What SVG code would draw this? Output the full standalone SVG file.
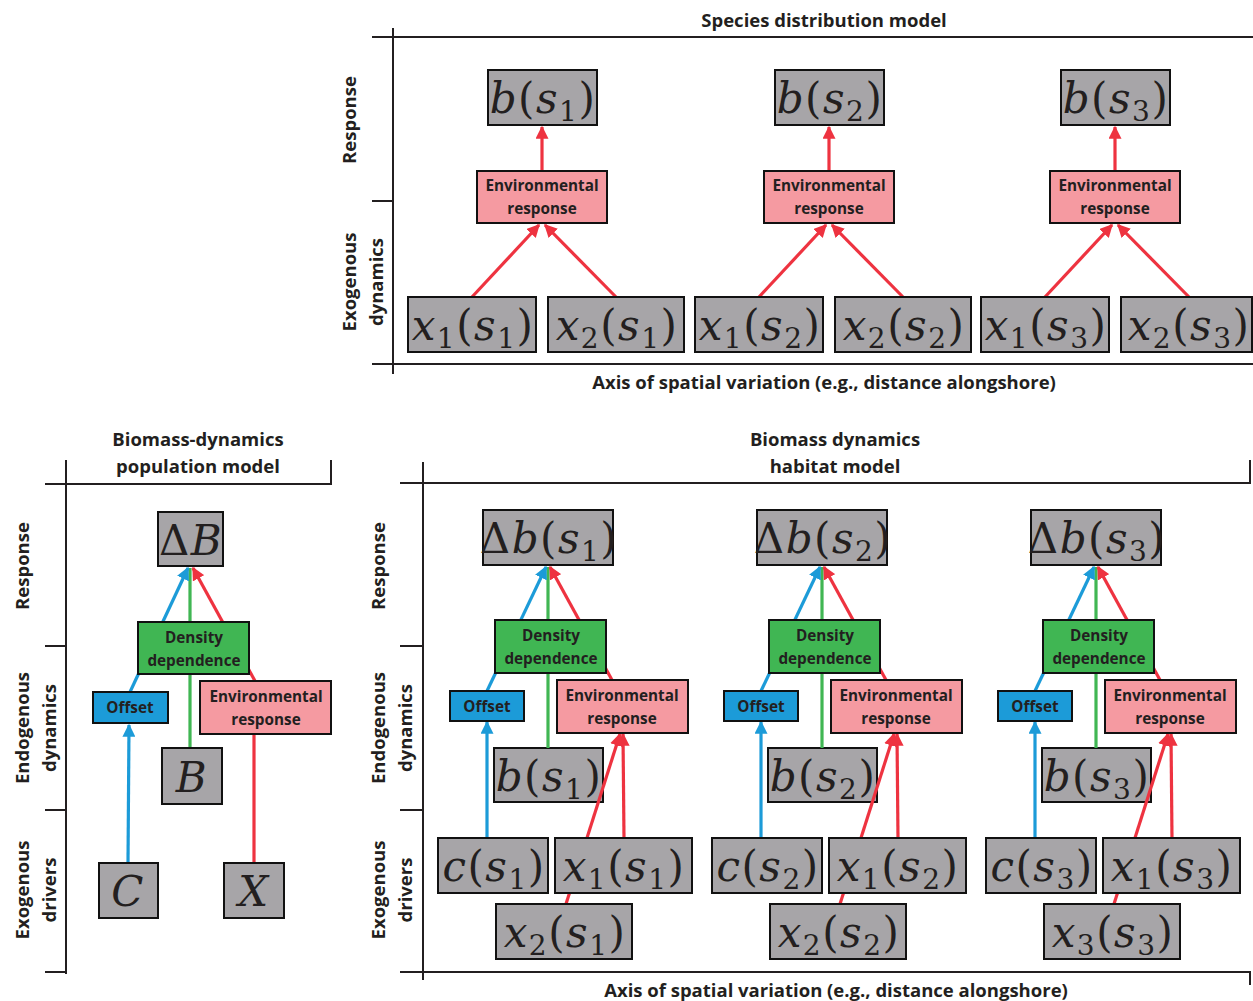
<svg xmlns="http://www.w3.org/2000/svg" width="1253" height="1001" viewBox="0 0 1253 1001">
  <style>
    .lbl { font-family: "Open Sans", Lato, sans-serif; font-weight: bold; fill: #231f20; }
    .title { font-size: 18.5px; text-anchor: middle; }
    .axis-lbl { font-size: 18.5px; text-anchor: middle; }
    .box-lbl { font-size: 15.3px; text-anchor: middle; }
    .m { font-family: "DejaVu Serif", "Liberation Serif", serif; font-size: 42px; letter-spacing: 1.5px; fill: #231f20; text-anchor: middle; }
    .it { font-style: italic; }
    .frame { stroke: #231f20; stroke-width: 2; fill: none; }
    .gray { fill: #a7a5a8; stroke: #111; stroke-width: 2; }
    .pink { fill: #f59aa1; stroke: #111; stroke-width: 2; }
    .green { fill: #40b653; stroke: #111; stroke-width: 2; }
    .blue { fill: #1c9bd8; stroke: #111; stroke-width: 2; }
    .cr { stroke: #ee3340; stroke-width: 3.2; fill: none; }
    .cb { stroke: #1c9bd8; stroke-width: 3.2; fill: none; }
    .cg { stroke: #40b653; stroke-width: 3.2; fill: none; }
  </style>
  <defs>
    <marker id="ar" viewBox="0 0 10 10" refX="9" refY="5" markerUnits="userSpaceOnUse" markerWidth="13" markerHeight="13" orient="auto">
      <path d="M0,0 L10,5 L0,10 z" fill="#ee3340"/>
    </marker>
    <marker id="ab" viewBox="0 0 10 10" refX="9" refY="5" markerUnits="userSpaceOnUse" markerWidth="13" markerHeight="13" orient="auto">
      <path d="M0,0 L10,5 L0,10 z" fill="#1c9bd8"/>
    </marker>
  </defs>

  <!-- ===== Species distribution model frame ===== -->
  <g id="frame-sdm">
    <text class="lbl title" x="824" y="27">Species distribution model</text>
    <line class="frame" x1="393" y1="28" x2="393" y2="374"/>
    <line class="frame" x1="393" y1="37" x2="1253" y2="37"/>
    <line class="frame" x1="393" y1="364" x2="1253" y2="364"/>
    <line class="frame" x1="372" y1="37" x2="393" y2="37"/>
    <line class="frame" x1="372" y1="201" x2="393" y2="201"/>
    <line class="frame" x1="372" y1="364" x2="393" y2="364"/>
    <text class="lbl axis-lbl" transform="translate(356,120) rotate(-90)">Response</text>
    <text class="lbl axis-lbl" transform="translate(356,282) rotate(-90)">Exogenous</text>
    <text class="lbl axis-lbl" transform="translate(383,282) rotate(-90)">dynamics</text>
    <text class="lbl axis-lbl" x="824" y="389">Axis of spatial variation (e.g., distance alongshore)</text>
  </g>

  <!-- ===== Biomass-dynamics population model frame ===== -->
  <g id="frame-pop">
    <text class="lbl title" x="198" y="446">Biomass-dynamics</text>
    <text class="lbl title" x="198" y="473">population model</text>
    <line class="frame" x1="66" y1="460" x2="66" y2="974"/>
    <line class="frame" x1="66" y1="484" x2="331" y2="484"/>
    <line class="frame" x1="331" y1="460" x2="331" y2="485"/>
    <line class="frame" x1="45" y1="484" x2="66" y2="484"/>
    <line class="frame" x1="45" y1="646" x2="66" y2="646"/>
    <line class="frame" x1="45" y1="810" x2="66" y2="810"/>
    <line class="frame" x1="45" y1="972" x2="66" y2="972"/>
    <text class="lbl axis-lbl" transform="translate(29,566) rotate(-90)">Response</text>
    <text class="lbl axis-lbl" transform="translate(29,728) rotate(-90)">Endogenous</text>
    <text class="lbl axis-lbl" transform="translate(56,728) rotate(-90)">dynamics</text>
    <text class="lbl axis-lbl" transform="translate(29,890) rotate(-90)">Exogenous</text>
    <text class="lbl axis-lbl" transform="translate(56,890) rotate(-90)">drivers</text>
  </g>

  <!-- ===== Biomass dynamics habitat model frame ===== -->
  <g id="frame-hab">
    <text class="lbl title" x="835" y="446">Biomass dynamics</text>
    <text class="lbl title" x="835" y="473">habitat model</text>
    <line class="frame" x1="423" y1="462" x2="423" y2="980"/>
    <line class="frame" x1="423" y1="483" x2="1251" y2="483"/>
    <line class="frame" x1="1250" y1="460" x2="1250" y2="484"/>
    <line class="frame" x1="423" y1="972" x2="1251" y2="972"/>
    <line class="frame" x1="1250" y1="971" x2="1250" y2="985"/>
    <line class="frame" x1="400" y1="483" x2="423" y2="483"/>
    <line class="frame" x1="400" y1="646" x2="423" y2="646"/>
    <line class="frame" x1="400" y1="810" x2="423" y2="810"/>
    <line class="frame" x1="400" y1="972" x2="423" y2="972"/>
    <text class="lbl axis-lbl" transform="translate(385,566) rotate(-90)">Response</text>
    <text class="lbl axis-lbl" transform="translate(385,728) rotate(-90)">Endogenous</text>
    <text class="lbl axis-lbl" transform="translate(412,728) rotate(-90)">dynamics</text>
    <text class="lbl axis-lbl" transform="translate(385,890) rotate(-90)">Exogenous</text>
    <text class="lbl axis-lbl" transform="translate(412,890) rotate(-90)">drivers</text>
    <text class="lbl axis-lbl" x="836" y="997">Axis of spatial variation (e.g., distance alongshore)</text>
  </g>

  <!-- state boxes that connectors cross over -->
  <g id="hab-b1"><rect class="gray" x="494" y="748" width="109" height="54"/>
    <text class="m" x="549" y="791"><tspan class="it">b</tspan>(<tspan class="it">s</tspan><tspan font-size="28" dy="8">1</tspan><tspan dy="-8">)</tspan></text></g>
  <g id="hab-b2"><rect class="gray" x="768" y="748" width="109" height="54"/>
    <text class="m" x="823" y="791"><tspan class="it">b</tspan>(<tspan class="it">s</tspan><tspan font-size="28" dy="8">2</tspan><tspan dy="-8">)</tspan></text></g>
  <g id="hab-b3"><rect class="gray" x="1042" y="748" width="109" height="54"/>
    <text class="m" x="1097" y="791"><tspan class="it">b</tspan>(<tspan class="it">s</tspan><tspan font-size="28" dy="8">3</tspan><tspan dy="-8">)</tspan></text></g>

  <!-- ===== connectors ===== -->
  <g id="connectors">
    <!-- species distribution model -->
    <line class="cr" x1="542" y1="171" x2="542" y2="127" marker-end="url(#ar)"/>
    <line class="cr" x1="472" y1="297" x2="539" y2="225" marker-end="url(#ar)"/>
    <line class="cr" x1="616" y1="297" x2="545" y2="225" marker-end="url(#ar)"/>
    <line class="cr" x1="829" y1="171" x2="829" y2="127" marker-end="url(#ar)"/>
    <line class="cr" x1="759" y1="297" x2="826" y2="225" marker-end="url(#ar)"/>
    <line class="cr" x1="903" y1="297" x2="832" y2="225" marker-end="url(#ar)"/>
    <line class="cr" x1="1115" y1="171" x2="1115" y2="127" marker-end="url(#ar)"/>
    <line class="cr" x1="1045" y1="297" x2="1112" y2="225" marker-end="url(#ar)"/>
    <line class="cr" x1="1189" y1="297" x2="1118" y2="225" marker-end="url(#ar)"/>

    <!-- population model -->
    <line class="cg" x1="190" y1="748" x2="190" y2="568"/>
    <line class="cb" x1="130" y1="692" x2="188" y2="568" marker-end="url(#ab)"/>
    <line class="cr" x1="255" y1="681" x2="193" y2="568" marker-end="url(#ar)"/>
    <line class="cb" x1="128" y1="863" x2="129" y2="725" marker-end="url(#ab)"/>
    <line class="cr" x1="254" y1="863" x2="254" y2="735"/>

    <!-- habitat model, site 1 -->
    <line class="cg" x1="548" y1="748" x2="548" y2="567"/>
    <line class="cb" x1="487" y1="691" x2="546" y2="567" marker-end="url(#ab)"/>
    <line class="cr" x1="612" y1="680" x2="550" y2="567" marker-end="url(#ar)"/>
    <line class="cb" x1="487" y1="838" x2="487" y2="722" marker-end="url(#ab)"/>
    <line class="cr" x1="624" y1="838" x2="623" y2="734" marker-end="url(#ar)"/>
    <line class="cr" x1="566" y1="904" x2="620" y2="734" marker-end="url(#ar)"/>
    <!-- habitat model, site 2 -->
    <line class="cg" x1="822" y1="748" x2="822" y2="567"/>
    <line class="cb" x1="761" y1="691" x2="820" y2="567" marker-end="url(#ab)"/>
    <line class="cr" x1="886" y1="680" x2="824" y2="567" marker-end="url(#ar)"/>
    <line class="cb" x1="761" y1="838" x2="761" y2="722" marker-end="url(#ab)"/>
    <line class="cr" x1="898" y1="838" x2="897" y2="734" marker-end="url(#ar)"/>
    <line class="cr" x1="840" y1="904" x2="894" y2="734" marker-end="url(#ar)"/>
    <!-- habitat model, site 3 -->
    <line class="cg" x1="1096" y1="748" x2="1096" y2="567"/>
    <line class="cb" x1="1035" y1="691" x2="1094" y2="567" marker-end="url(#ab)"/>
    <line class="cr" x1="1160" y1="680" x2="1098" y2="567" marker-end="url(#ar)"/>
    <line class="cb" x1="1035" y1="838" x2="1035" y2="722" marker-end="url(#ab)"/>
    <line class="cr" x1="1172" y1="838" x2="1171" y2="734" marker-end="url(#ar)"/>
    <line class="cr" x1="1114" y1="904" x2="1168" y2="734" marker-end="url(#ar)"/>
  </g>

  <!-- ===== species distribution model nodes ===== -->
  <g id="sdm-b1"><rect class="gray" x="488" y="70" width="109" height="55"/>
    <text class="m" x="543" y="113"><tspan class="it">b</tspan>(<tspan class="it">s</tspan><tspan font-size="28" dy="8">1</tspan><tspan dy="-8">)</tspan></text></g>
  <g id="sdm-b2"><rect class="gray" x="775" y="70" width="109" height="55"/>
    <text class="m" x="830" y="113"><tspan class="it">b</tspan>(<tspan class="it">s</tspan><tspan font-size="28" dy="8">2</tspan><tspan dy="-8">)</tspan></text></g>
  <g id="sdm-b3"><rect class="gray" x="1061" y="70" width="109" height="55"/>
    <text class="m" x="1116" y="113"><tspan class="it">b</tspan>(<tspan class="it">s</tspan><tspan font-size="28" dy="8">3</tspan><tspan dy="-8">)</tspan></text></g>

  <g id="sdm-env1"><rect class="pink" x="477" y="171" width="130" height="52"/>
    <text class="lbl box-lbl" x="542" y="191">Environmental</text><text class="lbl box-lbl" x="542" y="214">response</text></g>
  <g id="sdm-env2"><rect class="pink" x="764" y="171" width="130" height="52"/>
    <text class="lbl box-lbl" x="829" y="191">Environmental</text><text class="lbl box-lbl" x="829" y="214">response</text></g>
  <g id="sdm-env3"><rect class="pink" x="1050" y="171" width="130" height="52"/>
    <text class="lbl box-lbl" x="1115" y="191">Environmental</text><text class="lbl box-lbl" x="1115" y="214">response</text></g>

  <g id="sdm-x1s1"><rect class="gray" x="408" y="297" width="128" height="55"/>
    <text class="m" x="473" y="340"><tspan class="it">x</tspan><tspan font-size="28" dy="8">1</tspan><tspan dy="-8">(</tspan><tspan class="it">s</tspan><tspan font-size="28" dy="8">1</tspan><tspan dy="-8">)</tspan></text></g>
  <g id="sdm-x2s1"><rect class="gray" x="548" y="297" width="136" height="55"/>
    <text class="m" x="617" y="340"><tspan class="it">x</tspan><tspan font-size="28" dy="8">2</tspan><tspan dy="-8">(</tspan><tspan class="it">s</tspan><tspan font-size="28" dy="8">1</tspan><tspan dy="-8">)</tspan></text></g>
  <g id="sdm-x1s2"><rect class="gray" x="695" y="297" width="128" height="55"/>
    <text class="m" x="760" y="340"><tspan class="it">x</tspan><tspan font-size="28" dy="8">1</tspan><tspan dy="-8">(</tspan><tspan class="it">s</tspan><tspan font-size="28" dy="8">2</tspan><tspan dy="-8">)</tspan></text></g>
  <g id="sdm-x2s2"><rect class="gray" x="835" y="297" width="136" height="55"/>
    <text class="m" x="904" y="340"><tspan class="it">x</tspan><tspan font-size="28" dy="8">2</tspan><tspan dy="-8">(</tspan><tspan class="it">s</tspan><tspan font-size="28" dy="8">2</tspan><tspan dy="-8">)</tspan></text></g>
  <g id="sdm-x1s3"><rect class="gray" x="981" y="297" width="128" height="55"/>
    <text class="m" x="1046" y="340"><tspan class="it">x</tspan><tspan font-size="28" dy="8">1</tspan><tspan dy="-8">(</tspan><tspan class="it">s</tspan><tspan font-size="28" dy="8">3</tspan><tspan dy="-8">)</tspan></text></g>
  <g id="sdm-x2s3"><rect class="gray" x="1121" y="297" width="131" height="55"/>
    <text class="m" x="1189" y="340"><tspan class="it">x</tspan><tspan font-size="28" dy="8">2</tspan><tspan dy="-8">(</tspan><tspan class="it">s</tspan><tspan font-size="28" dy="8">3</tspan><tspan dy="-8">)</tspan></text></g>

  <!-- ===== population model nodes ===== -->
  <g id="pop-dB"><rect class="gray" x="158" y="512" width="65" height="54"/>
    <text class="m" x="191" y="555">Δ<tspan class="it">B</tspan></text></g>
  <g id="pop-dd"><rect class="green" x="138" y="622" width="111" height="52"/>
    <text class="lbl box-lbl" x="194" y="643">Density</text><text class="lbl box-lbl" x="194" y="666">dependence</text></g>
  <g id="pop-offset"><rect class="blue" x="93" y="692" width="75" height="31"/>
    <text class="lbl box-lbl" x="130" y="713">Offset</text></g>
  <g id="pop-env"><rect class="pink" x="200" y="681" width="131" height="53"/>
    <text class="lbl box-lbl" x="266" y="702">Environmental</text><text class="lbl box-lbl" x="266" y="725">response</text></g>
  <g id="pop-B"><rect class="gray" x="162" y="748" width="60" height="56"/>
    <text class="m" x="192" y="792"><tspan class="it">B</tspan></text></g>
  <g id="pop-C"><rect class="gray" x="99" y="863" width="59" height="55"/>
    <text class="m" x="128" y="906"><tspan class="it">C</tspan></text></g>
  <g id="pop-X"><rect class="gray" x="224" y="863" width="60" height="55"/>
    <text class="m" x="254" y="906"><tspan class="it">X</tspan></text></g>

  <!-- ===== habitat model nodes, site 1 ===== -->
  <g id="hab-db1"><rect class="gray" x="483" y="510" width="130" height="55"/>
    <text class="m" x="549" y="553">Δ<tspan class="it">b</tspan>(<tspan class="it">s</tspan><tspan font-size="28" dy="8">1</tspan><tspan dy="-8">)</tspan></text></g>
  <g id="hab-dd1"><rect class="green" x="495" y="620" width="111" height="53"/>
    <text class="lbl box-lbl" x="551" y="641">Density</text><text class="lbl box-lbl" x="551" y="664">dependence</text></g>
  <g id="hab-off1"><rect class="blue" x="450" y="691" width="74" height="30"/>
    <text class="lbl box-lbl" x="487" y="712">Offset</text></g>
  <g id="hab-env1"><rect class="pink" x="557" y="680" width="131" height="53"/>
    <text class="lbl box-lbl" x="622" y="701">Environmental</text><text class="lbl box-lbl" x="622" y="724">response</text></g>
  <g id="hab-c1"><rect class="gray" x="438" y="838" width="110" height="55"/>
    <text class="m" x="494" y="881"><tspan class="it">c</tspan>(<tspan class="it">s</tspan><tspan font-size="28" dy="8">1</tspan><tspan dy="-8">)</tspan></text></g>
  <g id="hab-x1s1"><rect class="gray" x="555" y="838" width="137" height="55"/>
    <text class="m" x="624" y="881"><tspan class="it">x</tspan><tspan font-size="28" dy="8">1</tspan><tspan dy="-8">(</tspan><tspan class="it">s</tspan><tspan font-size="28" dy="8">1</tspan><tspan dy="-8">)</tspan></text></g>
  <g id="hab-x2s1"><rect class="gray" x="496" y="904" width="136" height="55"/>
    <text class="m" x="565" y="947"><tspan class="it">x</tspan><tspan font-size="28" dy="8">2</tspan><tspan dy="-8">(</tspan><tspan class="it">s</tspan><tspan font-size="28" dy="8">1</tspan><tspan dy="-8">)</tspan></text></g>

  <!-- ===== habitat model nodes, site 2 ===== -->
  <g id="hab-db2"><rect class="gray" x="757" y="510" width="130" height="55"/>
    <text class="m" x="823" y="553">Δ<tspan class="it">b</tspan>(<tspan class="it">s</tspan><tspan font-size="28" dy="8">2</tspan><tspan dy="-8">)</tspan></text></g>
  <g id="hab-dd2"><rect class="green" x="769" y="620" width="111" height="53"/>
    <text class="lbl box-lbl" x="825" y="641">Density</text><text class="lbl box-lbl" x="825" y="664">dependence</text></g>
  <g id="hab-off2"><rect class="blue" x="724" y="691" width="74" height="30"/>
    <text class="lbl box-lbl" x="761" y="712">Offset</text></g>
  <g id="hab-env2"><rect class="pink" x="831" y="680" width="131" height="53"/>
    <text class="lbl box-lbl" x="896" y="701">Environmental</text><text class="lbl box-lbl" x="896" y="724">response</text></g>
  <g id="hab-c2"><rect class="gray" x="712" y="838" width="110" height="55"/>
    <text class="m" x="768" y="881"><tspan class="it">c</tspan>(<tspan class="it">s</tspan><tspan font-size="28" dy="8">2</tspan><tspan dy="-8">)</tspan></text></g>
  <g id="hab-x1s2"><rect class="gray" x="829" y="838" width="137" height="55"/>
    <text class="m" x="898" y="881"><tspan class="it">x</tspan><tspan font-size="28" dy="8">1</tspan><tspan dy="-8">(</tspan><tspan class="it">s</tspan><tspan font-size="28" dy="8">2</tspan><tspan dy="-8">)</tspan></text></g>
  <g id="hab-x2s2"><rect class="gray" x="770" y="904" width="136" height="55"/>
    <text class="m" x="839" y="947"><tspan class="it">x</tspan><tspan font-size="28" dy="8">2</tspan><tspan dy="-8">(</tspan><tspan class="it">s</tspan><tspan font-size="28" dy="8">2</tspan><tspan dy="-8">)</tspan></text></g>

  <!-- ===== habitat model nodes, site 3 ===== -->
  <g id="hab-db3"><rect class="gray" x="1031" y="510" width="130" height="55"/>
    <text class="m" x="1097" y="553">Δ<tspan class="it">b</tspan>(<tspan class="it">s</tspan><tspan font-size="28" dy="8">3</tspan><tspan dy="-8">)</tspan></text></g>
  <g id="hab-dd3"><rect class="green" x="1043" y="620" width="111" height="53"/>
    <text class="lbl box-lbl" x="1099" y="641">Density</text><text class="lbl box-lbl" x="1099" y="664">dependence</text></g>
  <g id="hab-off3"><rect class="blue" x="998" y="691" width="74" height="30"/>
    <text class="lbl box-lbl" x="1035" y="712">Offset</text></g>
  <g id="hab-env3"><rect class="pink" x="1105" y="680" width="131" height="53"/>
    <text class="lbl box-lbl" x="1170" y="701">Environmental</text><text class="lbl box-lbl" x="1170" y="724">response</text></g>
  <g id="hab-c3"><rect class="gray" x="986" y="838" width="110" height="55"/>
    <text class="m" x="1042" y="881"><tspan class="it">c</tspan>(<tspan class="it">s</tspan><tspan font-size="28" dy="8">3</tspan><tspan dy="-8">)</tspan></text></g>
  <g id="hab-x1s3"><rect class="gray" x="1103" y="838" width="137" height="55"/>
    <text class="m" x="1172" y="881"><tspan class="it">x</tspan><tspan font-size="28" dy="8">1</tspan><tspan dy="-8">(</tspan><tspan class="it">s</tspan><tspan font-size="28" dy="8">3</tspan><tspan dy="-8">)</tspan></text></g>
  <g id="hab-x3s3"><rect class="gray" x="1044" y="904" width="136" height="55"/>
    <text class="m" x="1113" y="947"><tspan class="it">x</tspan><tspan font-size="28" dy="8">3</tspan><tspan dy="-8">(</tspan><tspan class="it">s</tspan><tspan font-size="28" dy="8">3</tspan><tspan dy="-8">)</tspan></text></g>
</svg>
